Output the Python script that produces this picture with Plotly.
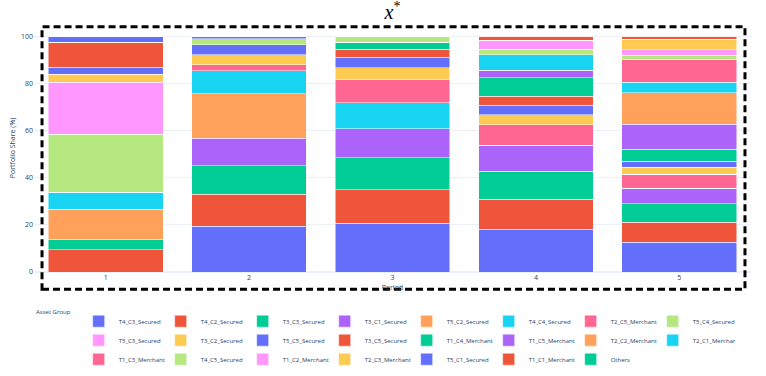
import plotly.graph_objects as go

periods = [1, 2, 3, 4, 5]

# asset groups in legend/stack order, values in % per period
t4_c3_secured = [0.0, 19.4, 20.8, 18.2, 12.6]
t4_c2_secured = [9.5, 13.5, 14.1, 12.6, 8.5]
t3_c3_secured = [4.1, 12.3, 13.7, 11.9, 7.8]
t3_c1_secured = [0.0, 11.6, 12.3, 11.0, 6.6]
t5_c2_secured = [13.1, 18.8, 0.0, 0.0, 0.0]
t4_c4_secured = [7.2, 9.9, 11.0, 0.0, 0.0]
t2_c5_merchant = [0.0, 2.4, 9.7, 8.7, 5.9]
t5_c4_secured = [24.6, 0.0, 0.0, 0.0, 0.0]
t5_c3_secured = [22.1, 0.0, 0.0, 0.0, 0.0]
t3_c2_secured = [3.3, 4.3, 5.0, 4.4, 3.0]
t5_c5_secured = [3.0, 4.3, 4.5, 4.0, 2.6]
t3_c5_secured = [10.6, 0.0, 3.4, 3.9, 0.0]
t1_c4_merchant = [0.0, 0.0, 3.1, 7.8, 5.2]
t1_c5_merchant = [0.0, 0.0, 0.0, 3.2, 10.5]
t2_c2_merchant = [0.0, 0.0, 0.0, 0.0, 13.3]
t2_c1_merchant = [0.0, 0.0, 0.0, 6.5, 4.5]
t1_c3_merchant = [0.0, 0.0, 0.0, 0.0, 9.9]
t4_c5_secured = [0.0, 2.5, 2.4, 2.3, 1.5]
t1_c2_merchant = [0.0, 0.0, 0.0, 3.8, 2.5]
t2_c3_merchant = [0.0, 0.0, 0.0, 0.0, 4.3]
t5_c1_secured = [2.5, 1.0, 0.0, 0.0, 0.0]
t1_c1_merchant = [0.0, 0.0, 0.0, 1.7, 1.3]
others = [0.0, 0.0, 0.0, 0.0, 0.0]

groups = [
    ('T4_C3_Secured', t4_c3_secured),
    ('T4_C2_Secured', t4_c2_secured),
    ('T3_C3_Secured', t3_c3_secured),
    ('T3_C1_Secured', t3_c1_secured),
    ('T5_C2_Secured', t5_c2_secured),
    ('T4_C4_Secured', t4_c4_secured),
    ('T2_C5_Merchant', t2_c5_merchant),
    ('T5_C4_Secured', t5_c4_secured),
    ('T5_C3_Secured', t5_c3_secured),
    ('T3_C2_Secured', t3_c2_secured),
    ('T5_C5_Secured', t5_c5_secured),
    ('T3_C5_Secured', t3_c5_secured),
    ('T1_C4_Merchant', t1_c4_merchant),
    ('T1_C5_Merchant', t1_c5_merchant),
    ('T2_C2_Merchant', t2_c2_merchant),
    ('T2_C1_Merchant', t2_c1_merchant),
    ('T1_C3_Merchant', t1_c3_merchant),
    ('T4_C5_Secured', t4_c5_secured),
    ('T1_C2_Merchant', t1_c2_merchant),
    ('T2_C3_Merchant', t2_c3_merchant),
    ('T5_C1_Secured', t5_c1_secured),
    ('T1_C1_Merchant', t1_c1_merchant),
    ('Others', others),
]

fig = go.Figure()
for name, vals in groups:
    fig.add_trace(go.Bar(x=periods, y=vals, name=name))

fig.update_layout(
    template='plotly_white',
    barmode='stack',
    width=766,
    height=376,
    margin=dict(l=34, r=15, t=24, b=104, autoexpand=False),
    font=dict(size=7),
    title=dict(
        text='<i>x</i><sup>*</sup>',
        font=dict(family='Liberation Serif', size=20, color='black'),
        x=0.5, xref='paper', xanchor='center',
        y=0.967, yref='container', yanchor='middle'
    ),
    legend=dict(
        orientation='h',
        traceorder='normal',
        title=dict(text='Asset Group', font=dict(size=6)),
        font=dict(size=6),
        entrywidth=37,
        x=0, xanchor='left',
        y=-0.41, yanchor='bottom'
    ),
    xaxis=dict(
        title=dict(text='Period', font=dict(size=7), standoff=4),
        tickvals=periods,
        automargin=False
    ),
    yaxis=dict(
        title=dict(text='Portfolio Share (%)', font=dict(size=7), standoff=4),
        dtick=20,
        automargin=False
    ),
)

# dashed frame around the plot
fig.add_shape(
    type='rect', xref='paper', yref='paper',
    x0=0.0112, x1=0.9916, y0=-0.07, y1=0.989,
    line=dict(color='black', width=3, dash='7px,4px'),
    fillcolor='rgba(0,0,0,0)'
)

# drop the default body margin so the figure fills the window
fig.write_html('out.html', config={'displayModeBar': False},
               post_script="document.body.style.margin = '0';")
